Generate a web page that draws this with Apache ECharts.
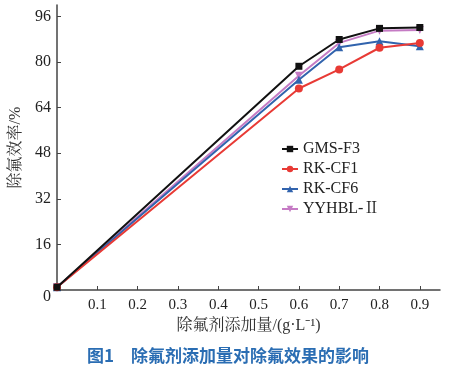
<!DOCTYPE html>
<html><head><meta charset="utf-8">
<script src="https://cdn.jsdelivr.net/npm/echarts@6/dist/echarts.min.js"></script>
<style>html,body{margin:0;padding:0;background:#fff}#c{width:456px;height:368px}</style>
</head><body><div id="c"></div>
<script>
var xValues = [0, 0.6, 0.7, 0.8, 0.9];
var seriesNames = ['GMS-F3', 'RK-CF1', 'RK-CF6', 'YYHBL-Ⅱ'];
var gmsF3 = [1, 78.5, 87.9, 91.8, 92.1];
var rkCF1 = [1, 70.7, 77.4, 85.0, 86.7];
var rkCF6 = [1, 73.8, 85.2, 87.3, 85.5];
var yyhbl = [1, 75.2, 86.7, 91.0, 91.2];
var colors = ['#111111', '#e83a35', '#3163ad', '#c57bc4'];
var symbols = ['rect', 'circle', 'triangle', 'path://M0,0 L10,0 L5,9 Z'];
var allData = [gmsF3, rkCF1, rkCF6, yyhbl];

function pairs(arr){ return xValues.map(function(x,i){ return [x, arr[i]]; }); }

var chart = echarts.init(document.getElementById('c'));
var serif = '"Liberation Serif", "Noto Serif CJK SC", "Noto Sans CJK SC", serif';
chart.setOption({
  animation: false,
  color: colors,
  grid: {left: 57, right: 16, top: 5, bottom: 78, containLabel: false},
  legend: {
    orient: 'vertical', left: 276, top: 136, itemWidth: 16, itemHeight: 8, itemGap: 4,
    textStyle: {fontFamily: serif, fontSize: 16, color: '#222'},
    data: seriesNames
  },
  title: {
    text: '图1　除氟剂添加量对除氟效果的影响',
    left: 'center', top: 342,
    textStyle: {color: '#2a6db3', fontSize: 17, fontWeight: 'bold', fontFamily: '"Noto Sans CJK SC", sans-serif'}
  },
  xAxis: {
    type: 'value', min: 0, max: 0.95, interval: 0.1,
    name: '除氟剂添加量/(g·L⁻¹)', nameLocation: 'middle', nameGap: 27,
    nameTextStyle: {fontFamily: serif, fontSize: 16, color: '#333'},
    axisLine: {lineStyle: {color: '#444', width: 1.5}},
    axisTick: {inside: true, length: 4, lineStyle: {color: '#444'}},
    axisLabel: {fontFamily: serif, fontSize: 15, color: '#222', margin: 8, showMaxLabel: false,
      formatter: function(v){ return v === 0 ? '' : v.toFixed(1); }},
    splitLine: {show: false}
  },
  yAxis: {
    type: 'value', min: 0, max: 100, interval: 16,
    name: '除氟效率/%', nameLocation: 'middle', nameGap: 27, nameRotate: 90,
    nameTextStyle: {fontFamily: serif, fontSize: 16, color: '#333'},
    axisLine: {show: true, lineStyle: {color: '#444', width: 1.5}},
    axisTick: {show: true, inside: true, length: 4, lineStyle: {color: '#444'}},
    axisLabel: {fontFamily: serif, fontSize: 16, color: '#222', margin: 6, showMaxLabel: false,
      formatter: function(v){ return v === 0 ? '{z|0}' : String(v); },
      rich: {z: {fontFamily: serif, fontSize: 16, color: '#222', padding: [14, 0, 0, 0]}}},
    splitLine: {show: false}
  },
  series: seriesNames.map(function(n, i){
    return {
      name: n, type: 'line', data: pairs(allData[i]),
      symbol: symbols[i], symbolSize: i === 0 ? 7 : 8, showSymbol: true,
      lineStyle: {width: 2, color: colors[i]},
      itemStyle: {color: colors[i]},
      z: 10 - i
    };
  })
});
</script></body></html>
